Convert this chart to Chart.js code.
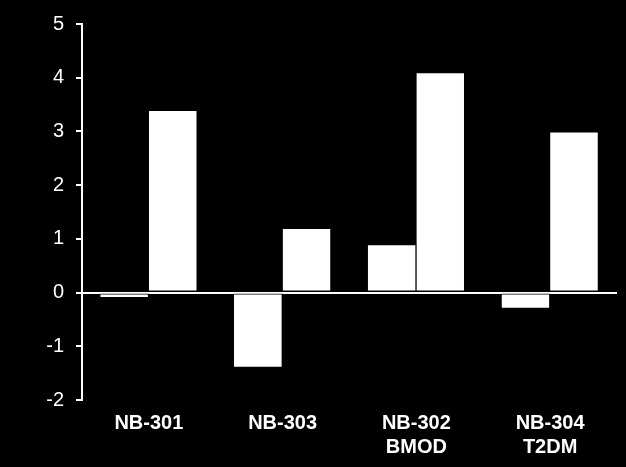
<!DOCTYPE html>
<html>
<head>
<meta charset="utf-8">
<script src="https://cdn.jsdelivr.net/npm/chart.js@4/dist/chart.umd.min.js"></script>
<style>
  html, body { margin: 0; padding: 0; background: #000; }
  #wrap { width: 626px; height: 467px; }
</style>
</head>
<body>
<div id="wrap"><canvas id="chart" width="626" height="467"></canvas></div>
<script>
// values
const categories = [['NB-301'], ['NB-303'], ['NB-302', 'BMOD'], ['NB-304', 'T2DM']];
const seriesA = [-0.1, -1.4, 0.9, -0.3];
const seriesB = [3.4, 1.2, 4.1, 3.0];
const yTicks = [-2, -1, 0, 1, 2, 3, 4, 5];

const fontFamily = "Arial, 'Liberation Sans', sans-serif";
const edge = { top: 1, right: 1, bottom: 1, left: 0 };

const chart = new Chart('chart', {
  type: 'bar',
  data: {
    labels: categories,
    datasets: [
      { data: seriesA, backgroundColor: '#fff', borderColor: '#000', borderWidth: edge, borderSkipped: false },
      { data: seriesB, backgroundColor: '#fff', borderColor: '#000', borderWidth: edge, borderSkipped: false }
    ]
  },
  options: {
    responsive: false,
    animation: false,
    layout: { padding: { top: 21, right: 9, left: 0, bottom: 0 } },
    datasets: { bar: { barPercentage: 1, categoryPercentage: 0.727 } },
    plugins: { legend: { display: false }, tooltip: { enabled: false } },
    scales: {
      x: {
        grid: { display: false },
        border: { display: false },
        ticks: {
          color: '#fff',
          font: { family: fontFamily, size: 20, weight: 'bold', lineHeight: 1.2 },
          padding: 3,
          maxRotation: 0
        },
        afterFit: s => { s.height = 67; }
      },
      y: {
        min: yTicks[0],
        max: yTicks[yTicks.length - 1],
        afterBuildTicks: s => { s.ticks = yTicks.map(v => ({ value: v })); },
        border: { display: true, color: '#fff', width: 2 },
        grid: {
          color: c => (c.tick && c.tick.value === 0 ? '#fff' : 'rgba(0,0,0,0)'),
          tickColor: '#fff',
          tickLength: 6,
          lineWidth: 2
        },
        ticks: {
          color: '#fff',
          font: { family: fontFamily, size: 20 },
          padding: 12
        },
        afterFit: s => { s.width = 82; }
      }
    }
  }
});
</script>
</body>
</html>
